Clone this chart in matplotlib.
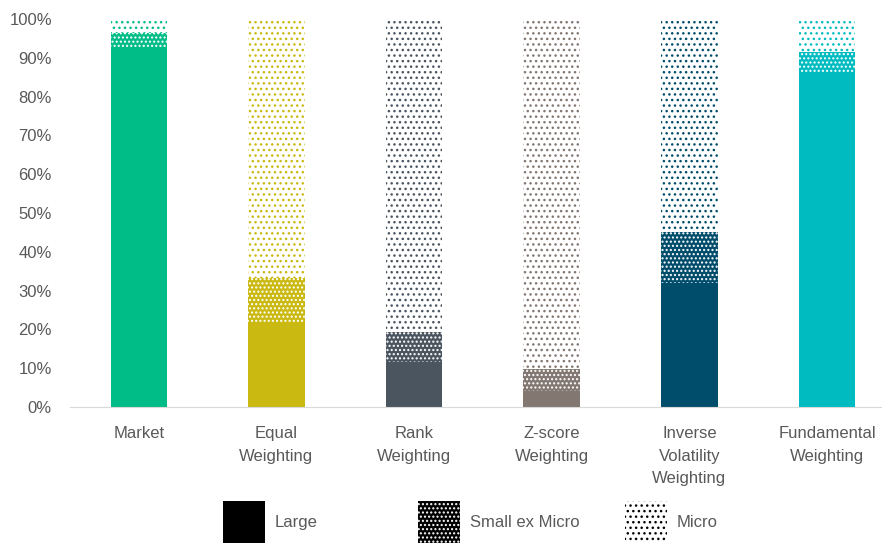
import numpy as np
import matplotlib.pyplot as plt
from matplotlib.patches import Patch

plt.rcParams['font.family'] = ['Liberation Sans', 'DejaVu Sans']
plt.rcParams['hatch.linewidth'] = 1.0

# datos (%)
categorias = ["Market", "Equal\nWeighting", "Rank\nWeighting", "Z-score\nWeighting",
              "Inverse\nVolatility\nWeighting", "Fundamental\nWeighting"]
large = [92.5, 22.0, 11.5, 4.0, 32.0, 86.0]
small_ex_micro = [3.9, 11.3, 7.9, 5.8, 13.1, 5.5]
micro = [3.6, 66.7, 80.6, 90.2, 54.9, 8.5]
colores = ["#00BC87", "#C9B911", "#4A5560", "#827771", "#004D6B", "#00BCC0"]
series = ["Large", "Small ex Micro", "Micro"]

fig = plt.figure(figsize=(8.82, 5.43), dpi=100)
ax = fig.add_axes([70/882, 1 - 407/543, 812/882, 388/543])

x = np.arange(len(categorias))
w = 0.41
for i in range(len(categorias)):
    c = colores[i]
    ax.bar(x[i], large[i], w, color=c, linewidth=0)
    ax.bar(x[i], small_ex_micro[i], w, bottom=large[i], facecolor=c,
           edgecolor="white", hatch="....", linewidth=0)
    ax.bar(x[i], micro[i], w, bottom=large[i] + small_ex_micro[i], facecolor="white",
           edgecolor=c, hatch="...", linewidth=0)

ax.set_xlim(-0.5, 5.4)
ax.set_ylim(0, 100)
ax.set_yticks(np.arange(0, 101, 10))
ax.set_yticklabels([f"{v}%" for v in range(0, 101, 10)])
ax.set_xticks(x)
ax.set_xticklabels(categorias, linespacing=1.6)
ax.tick_params(axis="both", length=0, labelsize=12, colors="#595959")
ax.tick_params(axis="x", pad=14)
ax.tick_params(axis="y", pad=13)
for s in ["top", "right", "left"]:
    ax.spines[s].set_visible(False)
ax.spines["bottom"].set_color("#D9D9D9")

# leyenda (una entrada por serie, en su posicion)
handles = [Patch(facecolor="black", edgecolor="black", linewidth=0),
           Patch(facecolor="black", edgecolor="white", hatch="....", linewidth=0),
           Patch(facecolor="white", edgecolor="black", hatch="...", linewidth=0)]
pos_x = [223, 418, 625]
for h, lab, px in zip(handles, series, pos_x):
    fig.legend([h], [lab], loc="center left", bbox_to_anchor=(px/882, 1 - 522/543),
               frameon=False, borderpad=0, borderaxespad=0,
               handlelength=2.5, handleheight=3.5, handletextpad=0.6,
               fontsize=12, labelcolor="#595959")

fig.savefig("out.png", dpi=100)
